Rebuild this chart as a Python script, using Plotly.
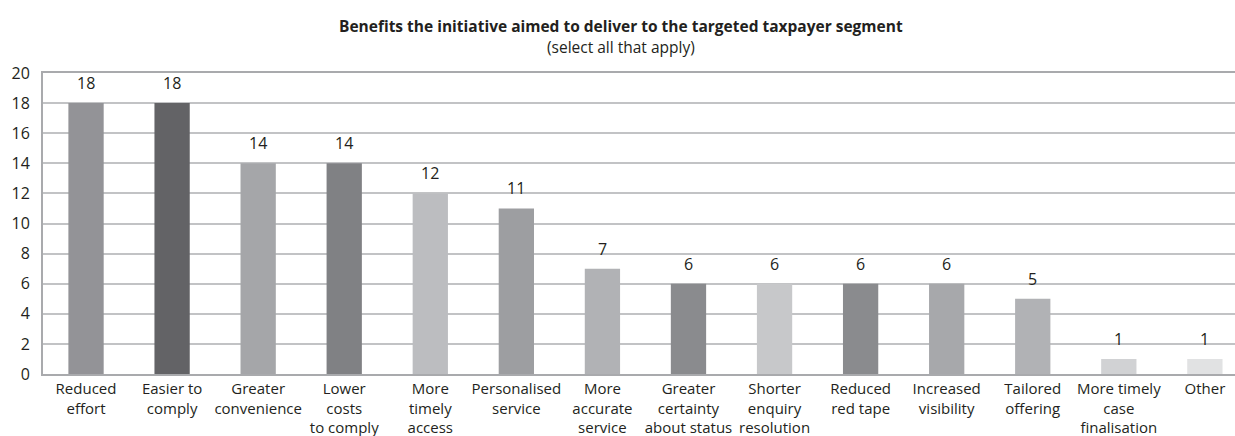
import plotly.graph_objects as go

categories = [
    "Reduced<br>effort",
    "Easier to<br>comply",
    "Greater<br>convenience",
    "Lower<br>costs<br>to comply",
    "More<br>timely<br>access",
    "Personalised<br>service",
    "More<br>accurate<br>service",
    "Greater<br>certainty<br>about status",
    "Shorter<br>enquiry<br>resolution",
    "Reduced<br>red tape",
    "Increased<br>visibility",
    "Tailored<br>offering",
    "More timely<br>case<br>finalisation",
    "Other",
]
values = [18, 18, 14, 14, 12, 11, 7, 6, 6, 6, 6, 5, 1, 1]
bar_colors = [
    "#939397", "#636366", "#a5a6a9", "#808184", "#bcbdc0", "#9d9ea1", "#b1b2b5",
    "#8a8b8e", "#c7c8ca", "#8a8b8e", "#a7a8ab", "#b1b2b5", "#d1d2d4", "#e1e2e3",
]
y_ticks = list(range(0, 21, 2))

FONT = "Open Sans"
TEXT = "#231f20"
GRID = "#c2c3c5"
AXIS = "#a9aaad"

idx = list(range(len(categories)))

fig = go.Figure(
    go.Bar(
        x=idx,
        y=values,
        marker=dict(color=bar_colors, line=dict(width=0)),
        width=0.41,
        hoverinfo="skip",
    )
)

# value labels above each bar
for i, v in zip(idx, values):
    fig.add_annotation(
        x=i, y=v, text=str(v), showarrow=False,
        yanchor="bottom", yshift=7,
        font=dict(family=FONT, size=16, color=TEXT),
    )

# two-line heading
fig.add_annotation(
    x=0.485, xref="paper", y=1.156, yref="paper",
    text="<b>Benefits the initiative aimed to deliver to the targeted taxpayer segment</b>",
    showarrow=False, xanchor="center", yanchor="middle",
    font=dict(family=FONT, size=15.5, color=TEXT),
)
fig.add_annotation(
    x=0.485, xref="paper", y=1.086, yref="paper",
    text="(select all that apply)",
    showarrow=False, xanchor="center", yanchor="middle",
    font=dict(family=FONT, size=15.5, color=TEXT),
)

fig.update_layout(
    width=1235,
    height=436,
    margin=dict(l=43, r=0, t=73, b=62),
    paper_bgcolor="white",
    plot_bgcolor="white",
    showlegend=False,
    xaxis=dict(
        range=[-0.5, 13.35],
        tickmode="array",
        tickvals=idx,
        ticktext=categories,
        tickangle=0,
        tickfont=dict(family=FONT, size=15, color=TEXT),
        showgrid=False,
        showline=True,
        mirror=True,
        linecolor=AXIS,
        linewidth=2,
        ticks="",
        zeroline=False,
    ),
    yaxis=dict(
        range=[0, 20],
        tickmode="array",
        tickvals=y_ticks,
        tickfont=dict(family=FONT, size=16, color=TEXT),
        ticklabelstandoff=8,
        showgrid=True,
        gridcolor=GRID,
        gridwidth=1.5,
        showline=True,
        linecolor=AXIS,
        linewidth=2,
        ticks="",
        ticklen=0,
        zeroline=False,
    ),
)

fig.write_html("out.html")
